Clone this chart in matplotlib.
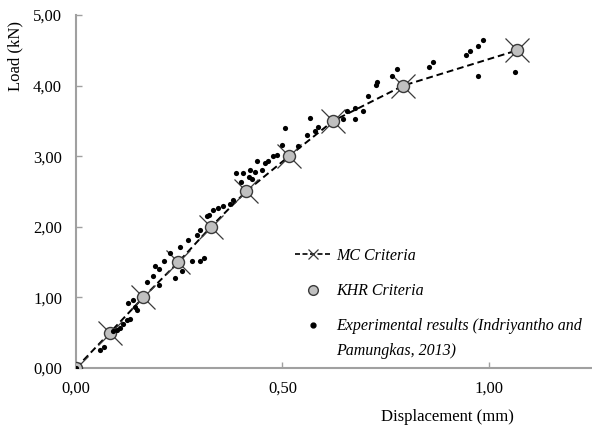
import numpy as np
import matplotlib
matplotlib.use("Agg")
from matplotlib import pyplot as plt
from matplotlib.lines import Line2D

plt.rcParams['font.family'] = ['Liberation Serif', 'DejaVu Serif']

# MC / KHR criteria points (displacement mm, load kN)
mcDisp = [0.0, 0.082, 0.163, 0.248, 0.327, 0.412, 0.516, 0.623, 0.793, 1.069]
mcLoad = [0.0, 0.5, 1.0, 1.5, 2.0, 2.5, 3.0, 3.5, 4.0, 4.5]
khrDisp = [0.0, 0.082, 0.163, 0.248, 0.327, 0.412, 0.516, 0.623, 0.793, 1.069]
khrLoad = [0.0, 0.5, 1.0, 1.5, 2.0, 2.5, 3.0, 3.5, 4.0, 4.5]

# experimental results (Indriyantho and Pamungkas, 2013)
expDisp = [0.0, 0.058, 0.069, 0.090, 0.099, 0.107, 0.115, 0.123, 0.131, 0.127,
           0.139, 0.143, 0.147, 0.171, 0.187, 0.191, 0.202, 0.200, 0.212, 0.228,
           0.240, 0.256, 0.252, 0.272, 0.280, 0.292, 0.300, 0.300, 0.310, 0.317,
           0.323, 0.333, 0.345, 0.357, 0.373, 0.381, 0.388, 0.400, 0.405, 0.418,
           0.426, 0.422, 0.434, 0.438, 0.450, 0.458, 0.466, 0.478, 0.486, 0.498,
           0.506, 0.539, 0.559, 0.567, 0.579, 0.587, 0.648, 0.656, 0.676, 0.676,
           0.696, 0.708, 0.726, 0.728, 0.765, 0.777, 0.854, 0.866, 0.945, 0.955,
           0.975, 0.987, 0.975, 1.064]
expLoad = [0.0, 0.25, 0.30, 0.52, 0.54, 0.56, 0.63, 0.68, 0.70, 0.92,
           0.96, 0.87, 0.82, 1.22, 1.30, 1.44, 1.40, 1.18, 1.51, 1.63,
           1.27, 1.37, 1.72, 1.82, 1.51, 1.89, 1.51, 1.96, 1.56, 2.15,
           2.17, 2.24, 2.26, 2.30, 2.33, 2.38, 2.76, 2.64, 2.76, 2.71,
           2.67, 2.81, 2.78, 2.93, 2.81, 2.90, 2.93, 3.00, 3.02, 3.16,
           3.40, 3.14, 3.30, 3.54, 3.35, 3.42, 3.52, 3.64, 3.68, 3.53,
           3.64, 3.85, 4.01, 4.05, 4.13, 4.23, 4.26, 4.33, 4.43, 4.49,
           4.56, 4.64, 4.13, 4.19]

xTicks = [0.0, 0.5, 1.0]
yTicks = [0.0, 1.0, 2.0, 3.0, 4.0, 5.0]
labels = ["MC Criteria", "KHR Criteria", "Experimental results (Indriyantho and"]
label3cont = "Pamungkas, 2013)"

fig = plt.figure(figsize=(5.92, 4.28), dpi=100)
ax = fig.add_axes([76/592, 60/428, 516/592, 353/428])

ax.plot(mcDisp, mcLoad, linestyle=(0, (3.5, 2)), color="black", linewidth=1.4,
        marker="x", markersize=17, markeredgecolor="#3a3a3a", markeredgewidth=0.9,
        zorder=2)
ax.scatter(khrDisp, khrLoad, s=75, facecolor="#c0c0c0", edgecolor="#3a3a3a",
           linewidth=1.0, zorder=3)
ax.scatter(expDisp, expLoad, s=14, color="black", linewidth=0, zorder=4)

ax.set_xlim(0, 1.25)
ax.set_ylim(0, 5.0)
ax.set_xticks(xTicks)
ax.set_yticks(yTicks)
ax.set_xticklabels([f"{v:.2f}".replace(".", ",") for v in xTicks])
ax.set_yticklabels([f"{v:.2f}".replace(".", ",") for v in yTicks])
ax.tick_params(axis="x", direction="in", length=4, width=1, color="#a0a0a0",
               labelsize=12, pad=9)
ax.tick_params(axis="y", direction="in", length=4, width=1, color="#a0a0a0",
               labelsize=12, pad=10)

for side in ["top", "right"]:
    ax.spines[side].set_visible(False)
for side in ["left", "bottom"]:
    ax.spines[side].set_color("#a0a0a0")
    ax.spines[side].set_linewidth(1.5)

fig.text(15/592, 1 - 56/428, "Load (kN)", rotation=90, ha="center", va="center",
         fontsize=12)
fig.text(447/592, 1 - 417/428, "Displacement (mm)", ha="center", va="center",
         fontsize=12)

# legend handles (smaller markers, like the original)
h = [Line2D([], [], linestyle=(0, (3, 1.5)), color="black", linewidth=1.2,
            marker="x", markersize=7, markeredgecolor="#3a3a3a", markeredgewidth=0.9),
     Line2D([], [], linestyle="none", marker="o", markersize=7,
            markerfacecolor="#c0c0c0", markeredgecolor="#3a3a3a", markeredgewidth=1.0),
     Line2D([], [], linestyle="none", marker="o", markersize=3.5, color="black")]
leg = fig.legend(h, labels, loc="upper left", bbox_to_anchor=(295/592, 1 - 248/428),
                 frameon=False, prop={"style": "italic", "size": 11.5},
                 handlelength=2.3, handletextpad=0.3, labelspacing=1.2,
                 borderaxespad=0, borderpad=0)

# second line of the experimental label, under the first one
fig.canvas.draw()
bb = leg.get_texts()[2].get_window_extent()
fig.text(bb.x0 / 592, (bb.y0 - 25) / 428, label3cont, ha="left", va="bottom",
         fontsize=11.5, style="italic")

fig.savefig("out.png", dpi=100)
